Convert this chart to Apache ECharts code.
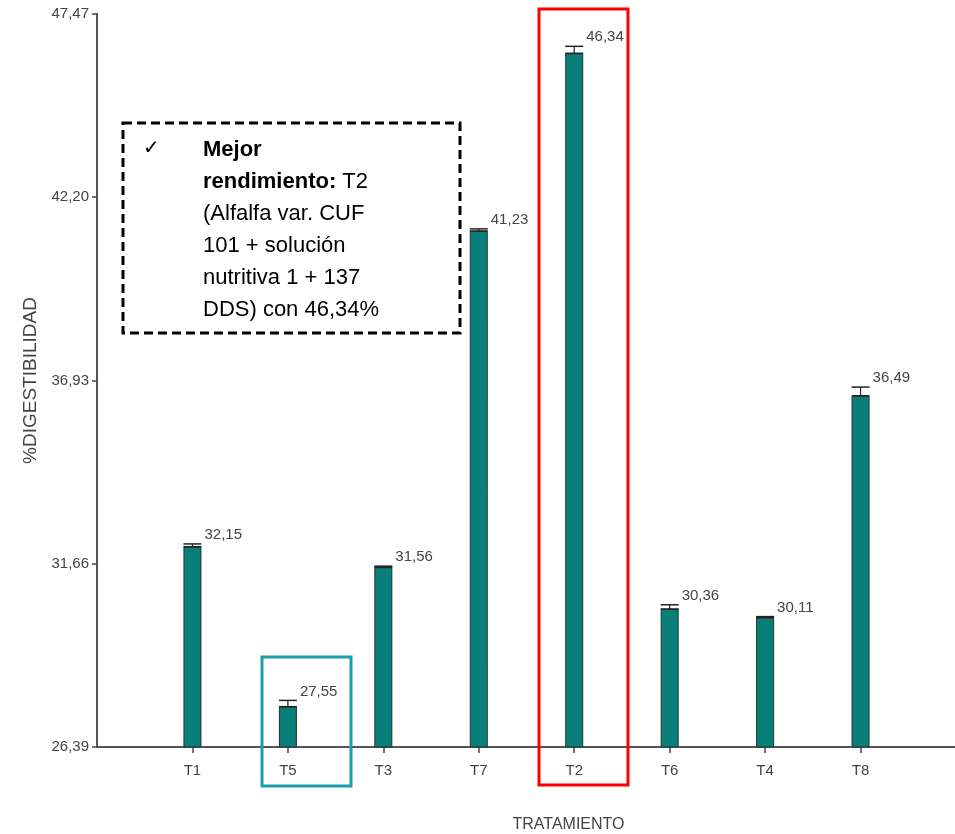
<!DOCTYPE html>
<html><head><meta charset="utf-8">
<script src="https://cdn.jsdelivr.net/npm/echarts@6/dist/echarts.min.js"></script>
<style>html,body{margin:0;padding:0;background:#fff}#c{width:955px;height:834px}</style>
</head><body><div id="c"></div>
<script>
var categories = ['T1','T5','T3','T7','T2','T6','T4','T8'];
var values = [32.15, 27.55, 31.56, 41.23, 46.34, 30.36, 30.11, 36.49];
var errors = [0.08, 0.18, 0.03, 0.06, 0.2, 0.12, 0.03, 0.25];
var yTicks = [26.39, 31.66, 36.93, 42.20, 47.47];
var NF = '"Liberation Sans Narrow","Liberation Sans",Arial,sans-serif';
function fmt(v){return v.toFixed(2).replace('.', ',');}

var chart = echarts.init(document.getElementById('c'));
var barData = values.map(function(v,i){return [i+1, v];});
var errData = values.map(function(v,i){return [i+1, v, errors[i]];});
chart.setOption({
  animation:false,
  grid:{left:97, right:-1, top:14, bottom:87, outerBoundsMode:'none', containLabel:false},
  xAxis:{type:'value', min:0, max:9,
    axisLine:{show:true, lineStyle:{color:'#555', width:2}},
    axisTick:{show:true, customValues:categories.map(function(c,i){return i+1;}), length:6, inside:false, lineStyle:{color:'#444', width:1.5}},
    axisLabel:{customValues:categories.map(function(c,i){return i+1;}), margin:16,
      formatter:function(v){return categories[Math.round(v)-1]||'';}, color:'#444', fontFamily:NF, fontSize:15},
    splitLine:{show:false},
    name:'TRATAMIENTO', nameLocation:'middle', nameGap:70,
    nameTextStyle:{color:'#444', fontFamily:NF, fontSize:16, padding:[0,0,0,84]}
  },
  yAxis:{type:'value', min:yTicks[0], max:yTicks[yTicks.length-1],
    axisLine:{show:true, lineStyle:{color:'#555', width:2}},
    axisTick:{show:true, customValues:yTicks, length:5, lineStyle:{color:'#444', width:1.5}},
    axisLabel:{customValues:yTicks, margin:8, formatter:function(v){return fmt(v);}, color:'#444', fontFamily:NF, fontSize:15},
    splitLine:{show:false},
    name:'%DIGESTIBILIDAD', nameLocation:'middle', nameGap:55, nameRotate:90,
    nameTextStyle:{color:'#444', fontFamily:NF, fontSize:19}
  },
  series:[
    {type:'bar', data:barData, barWidth:18,
     itemStyle:{color:'#0a7f79', borderColor:'#1c3434', borderWidth:1}},
    {type:'custom', data:errData, z:5,
     renderItem:function(params, api){
       var x = api.value(0), v = api.value(1), e = api.value(2);
       var pTop = api.coord([x, v+e]);
       var pBar = api.coord([x, v]);
       var hw = 9;
       return {type:'group', children:[
         {type:'line', shape:{x1:pTop[0], y1:pTop[1], x2:pTop[0], y2:pBar[1]}, style:{stroke:'#222', lineWidth:1.2}},
         {type:'line', shape:{x1:pTop[0]-hw, y1:pTop[1], x2:pTop[0]+hw, y2:pTop[1]}, style:{stroke:'#222', lineWidth:1.5}},
         {type:'line', shape:{x1:pBar[0]-hw, y1:pBar[1], x2:pBar[0]+hw, y2:pBar[1]}, style:{stroke:'#222', lineWidth:1.5}},
         {type:'text', style:{text:fmt(v), x:pTop[0]+12, y:pTop[1]-9, fill:'#444', font:'15px '+NF, textAlign:'left', textVerticalAlign:'middle'}}
       ]};
     }}
  ],
  graphic:[
    {type:'rect', shape:{x:539, y:9, width:89, height:776}, style:{fill:'none', stroke:'#ff0000', lineWidth:3}, z:10},
    {type:'rect', shape:{x:262, y:657, width:89, height:129}, style:{fill:'none', stroke:'#1b9ea8', lineWidth:3}, z:10},
    {type:'rect', shape:{x:123, y:123, width:337, height:210}, style:{fill:'#fff', stroke:'#000', lineWidth:3, lineDash:[9,5]}, z:10},
    {type:'text', x:143, y:139, style:{text:'✓', font:'20px "DejaVu Sans"', fill:'#000'}, z:11},
    {type:'text', x:203, y:134, style:{
      text:'{b|Mejor}\n{b|rendimiento:} T2\n(Alfalfa var. CUF\n101 + solución\nnutritiva 1 + 137\nDDS) con 46,34%',
      font:'22px "Liberation Sans",Arial,sans-serif', fill:'#000', lineHeight:32,
      rich:{b:{fontWeight:'bold', fontSize:22, fontFamily:'"Liberation Sans",Arial,sans-serif', lineHeight:32}}
    }, z:11}
  ]
});
</script></body></html>
